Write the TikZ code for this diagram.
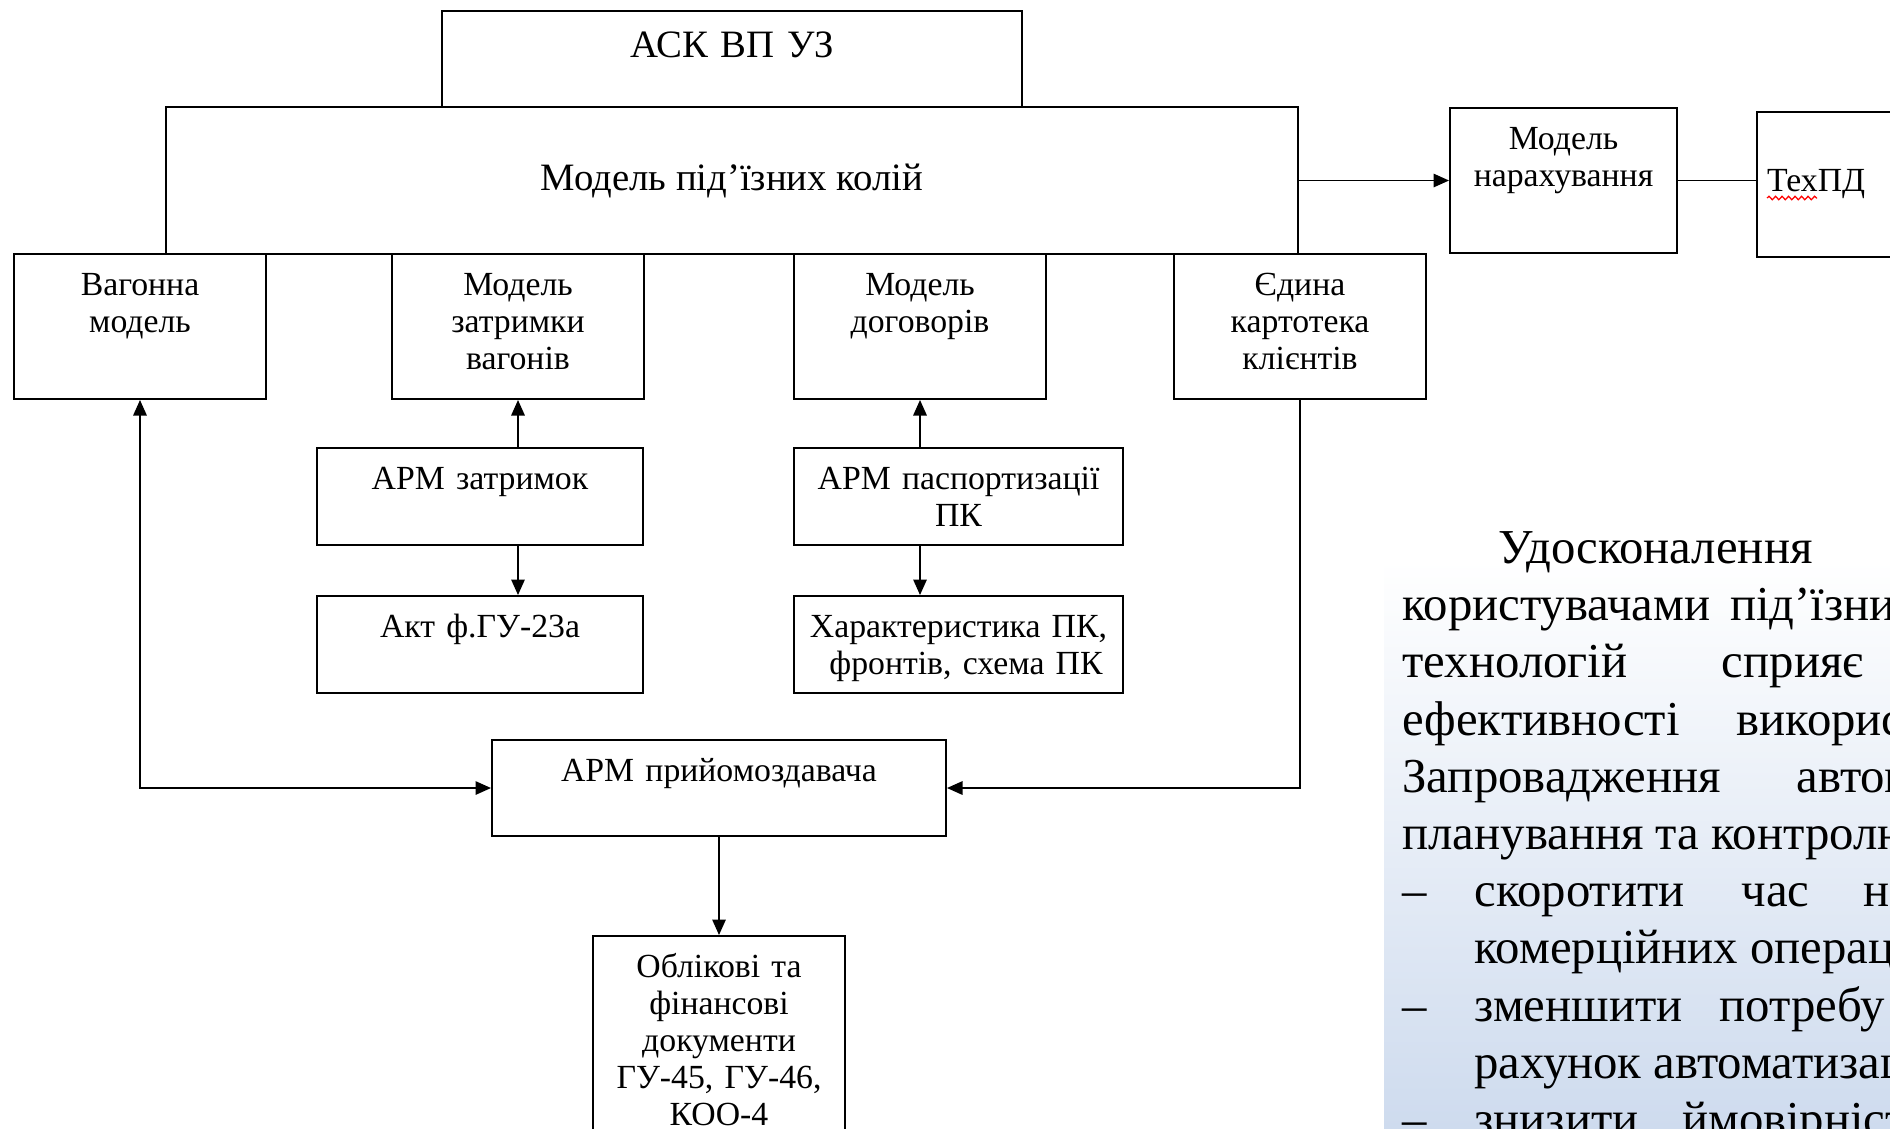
\documentclass[tikz,border=0pt]{standalone}
\usepackage{fontspec}
\setmainfont{Liberation Serif}
\usetikzlibrary{arrows.meta, positioning, calc, decorations.pathmorphing}
\definecolor{panel}{RGB}{206,219,238}

\begin{document}
\begin{tikzpicture}[
    x=0.4pt, y=-0.4pt,
    >={Triangle[length=6.2pt, width=5.4pt]},
    font=\fontsize{13.5}{14.8}\selectfont,
    box/.style={draw, line width=0.8pt, anchor=north west, inner xsep=0pt, inner ysep=0pt, align=center, text height=16.4pt},
    model/.style={box, text width=100.8pt, text depth=41.6pt},
    arm/.style={box, text width=130.4pt, text depth=22.4pt},
    big/.style={font=\fontsize{15.5}{17}\selectfont},
    arrow/.style={->, line width=0.6pt},
    biarrow/.style={<->, line width=0.6pt},
    link/.style={line width=0.6pt},
    para/.style={anchor=base west, inner sep=0pt, font=\fontsize{19.5}{22.7}\selectfont},
    spell/.style={red, line width=0.5pt, decorate, decoration={snake, segment length=2.6pt, amplitude=0.7pt}}
  ]
    \useasboundingbox (0,0) rectangle (1890,1128);
    \clip (0,0) rectangle (1890,1128);
    % background of the text panel
    \shade[top color=white, bottom color=panel] (1384,560) rectangle (1890,1128);

    \node[box, big, text width=232pt, text height=18.4pt, text depth=20pt] (ask) at (441,10) {АСК ВП УЗ};
    \node[draw, line width=0.8pt, anchor=north west, inner sep=0pt, minimum width=452.8pt, minimum height=58.8pt, big] (mpk) at (165,106) {Модель під’їзних колій};
    \node[model] (vag) at (13,253) {Вагонна\\модель};
    \node[model] (mzat) at (391,253) {Модель\\затримки\\вагонів};
    \node[model] (mdog) at (793,253) {Модель\\договорів};
    \node[model] (kart) at (1173,253) {Єдина\\картотека\\клієнтів};
    \node[box, text width=90.8pt, text depth=41.6pt] (narah) at (1449,107) {Модель\\нарахування};
    \node[draw, line width=0.8pt, anchor=north west, inner xsep=4pt, inner ysep=0pt, text width=86.8pt, minimum height=58pt, align=left] (texpd) at (1756,111) {ТехПД};
    \node[arm] (armz) at (316,447) {АРМ затримок};
    \node[arm, below=19.6pt of armz] (akt) {Акт ф.ГУ-23а};
    \node[arm, text width=131.6pt] (armp) at (793,447) {АРМ паспортизації\\ПК};
    \node[arm, text width=131.6pt, below=19.6pt of armp] (har) {Характеристика ПК,\\\hspace*{6pt}фронтів, схема ПК};
    \node[box, text width=181.6pt, text depth=22pt] (prm) at (491,739) {АРМ прийомоздавача};
    \node[box, text width=100.8pt, text depth=67.6pt, below=39.2pt of prm] (obl) {Облікові та\\фінансові\\документи\\ГУ-45, ГУ-46,\\КОО-4};

    \draw[spell] ([xshift=4.4pt, yshift=-5.4pt]texpd.west) -- ++(50,0);

    \draw[arrow] (mpk.east) -- (narah.west);
    \draw[link] (narah.east) -- (narah.east -| texpd.west);
    \draw[arrow] (mzat.south |- armz.north) -- (mzat.south);
    \draw[arrow] (mzat.south |- armz.south) -- (mzat.south |- akt.north);
    \draw[arrow] (mdog.south |- armp.north) -- (mdog.south);
    \draw[arrow] (mdog.south |- armp.south) -- (mdog.south |- har.north);
    \draw[biarrow] (vag.south) |- (prm.west);
    \draw[arrow] (kart.south) |- (prm.east);
    \draw[arrow] (prm) -- (obl);

    % text panel on the right
    \node[para] (t1) at (1498,563) {Удосконалення};
    \node[para] (t2) at (1402,620) {користувачами\hspace{3pt} під’їзни};
    \node[para] (t3) at (1402,677) {технологій\hspace{33pt} сприяє};
    \node[para] (t4) at (1402,735) {ефективності\hspace{18pt} використ};
    \node[para] (t5) at (1402,792) {Запровадження\hspace{25.5pt} автом};
    \node[para] (t6) at (1402,849) {планування та контролю};
    \node[para] (t7) at (1402,906) {\makebox[28.8pt][l]{–}скоротити\hspace{18pt} час\hspace{16.5pt} н};
    \node[para] (t8) at (1474,963) {комерційних операц};
    \node[para] (t9) at (1402,1021) {\makebox[28.8pt][l]{–}зменшити\hspace{10pt} потребу};
    \node[para] (t10) at (1474,1078) {рахунок автоматизац};
    \node[para] (t11) at (1402,1135) {\makebox[28.8pt][l]{–}знизити\hspace{12.5pt} ймовірніст};
\end{tikzpicture}
\end{document}
